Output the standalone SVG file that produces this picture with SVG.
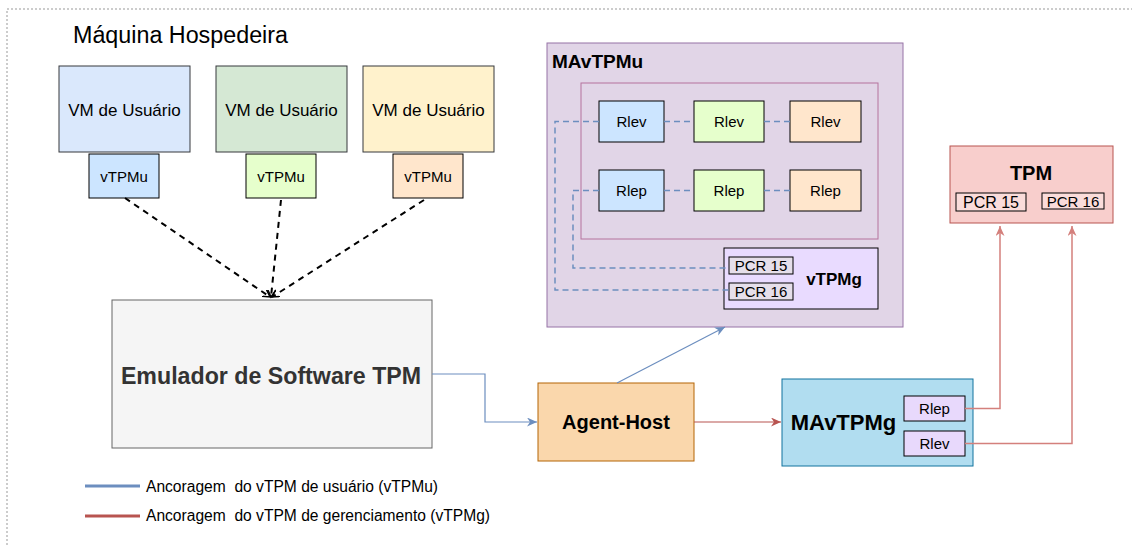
<svg xmlns="http://www.w3.org/2000/svg" width="1132" height="545" viewBox="0 0 1132 545">
  <style>
    text { font-family: "Liberation Sans", Arial, Helvetica, sans-serif; fill: #000; }
    .c { text-anchor: middle; dominant-baseline: central; }
    .b { font-weight: bold; }
    .pre { white-space: pre; }
    .box { stroke-width: 1; }
    .ubox { stroke: #000; stroke-width: 1; }
    .dash-blue { fill: none; stroke: #6c8ebf; stroke-width: 1.5; stroke-dasharray: 6 4; }
    .dash-black { fill: none; stroke: #000; stroke-width: 2; stroke-dasharray: 6 5; }
    .blue { fill: none; stroke: #6c8ebf; stroke-width: 1.2; }
    .red { fill: none; stroke: #b85450; stroke-width: 1.2; }
    .red-soft { fill: none; stroke: #d4807c; stroke-width: 1.5; }
  </style>
  <defs>
    <marker id="arrBlue" markerUnits="userSpaceOnUse" markerWidth="12" markerHeight="10" refX="10" refY="4.5" orient="auto">
      <path d="M0,0 L10,4.5 L0,9 L3,4.5 z" fill="#6c8ebf"/>
    </marker>
    <marker id="arrRed" markerUnits="userSpaceOnUse" markerWidth="12" markerHeight="10" refX="10" refY="4.5" orient="auto">
      <path d="M0,0 L10,4.5 L0,9 L3,4.5 z" fill="#b85450"/>
    </marker>
    <marker id="arrRedSoft" markerUnits="userSpaceOnUse" markerWidth="12" markerHeight="10" refX="10" refY="4.5" orient="auto">
      <path d="M0,0 L10,4.5 L0,9 L3,4.5 z" fill="#d4807c"/>
    </marker>
    <marker id="arrBlack" markerUnits="userSpaceOnUse" markerWidth="10" markerHeight="10" refX="7" refY="4" orient="auto">
      <path d="M0,0 L7,4 L0,8" fill="none" stroke="#000" stroke-width="1.5"/>
    </marker>
  </defs>

  <!-- host machine boundary -->
  <rect x="7" y="9" width="1140" height="550" fill="#fff" stroke="#999" stroke-width="1" stroke-dasharray="2 2"/>
  <text x="73" y="43" font-size="23.3">Máquina Hospedeira</text>

  <!-- user VMs -->
  <g id="vm1">
    <rect class="box" x="59" y="66" width="131" height="86" fill="#dae8fc" stroke="#36393d"/>
    <text class="c" x="124.5" y="110" font-size="17">VM de Usuário</text>
  </g>
  <g id="vm2">
    <rect class="box" x="216" y="66" width="131" height="86" fill="#d5e8d4" stroke="#36393d"/>
    <text class="c" x="281.5" y="110" font-size="17">VM de Usuário</text>
  </g>
  <g id="vm3">
    <rect class="box" x="363" y="66" width="131" height="86" fill="#fff2cc" stroke="#36393d"/>
    <text class="c" x="428.5" y="110" font-size="17">VM de Usuário</text>
  </g>
  <g id="vtpmu1">
    <rect class="ubox" x="89" y="154" width="70" height="44" fill="#cce5ff"/>
    <text class="c" x="124" y="176" font-size="15">vTPMu</text>
  </g>
  <g id="vtpmu2">
    <rect class="ubox" x="246" y="154" width="70" height="44" fill="#e6ffcc"/>
    <text class="c" x="281" y="176" font-size="15">vTPMu</text>
  </g>
  <g id="vtpmu3">
    <rect class="ubox" x="393" y="154" width="70" height="44" fill="#ffe6cc"/>
    <text class="c" x="428" y="176" font-size="15">vTPMu</text>
  </g>

  <!-- software TPM emulator -->
  <g id="emulador">
    <rect x="112" y="300" width="320" height="148" fill="#f5f5f5" stroke="#666"/>
    <text class="c b" x="271" y="376" font-size="23.2" style="fill:#333">Emulador de Software TPM</text>
  </g>

  <!-- user vTPM manager -->
  <g id="mavtpmu">
    <rect x="547" y="43" width="356" height="284" fill="#e1d5e7" stroke="#9673a6"/>
    <text class="b" x="552" y="68" font-size="19">MAvTPMu</text>
    <rect x="581" y="83" width="297" height="156" fill="none" stroke="#b5739d"/>
  </g>
  <g id="rlev-1">
    <rect class="ubox" x="599" y="101" width="65" height="41" fill="#cce5ff"/>
    <text class="c" x="631.5" y="121.5" font-size="15">Rlev</text>
  </g>
  <g id="rlev-2">
    <rect class="ubox" x="694" y="101" width="70" height="41" fill="#e6ffcc"/>
    <text class="c" x="729" y="121.5" font-size="15">Rlev</text>
  </g>
  <g id="rlev-3">
    <rect class="ubox" x="790" y="101" width="71" height="41" fill="#ffe6cc"/>
    <text class="c" x="825.5" y="121.5" font-size="15">Rlev</text>
  </g>
  <g id="rlep-1">
    <rect class="ubox" x="599" y="170" width="65" height="41" fill="#cce5ff"/>
    <text class="c" x="631.5" y="190.5" font-size="15">Rlep</text>
  </g>
  <g id="rlep-2">
    <rect class="ubox" x="694" y="170" width="70" height="41" fill="#e6ffcc"/>
    <text class="c" x="729" y="190.5" font-size="15">Rlep</text>
  </g>
  <g id="rlep-3">
    <rect class="ubox" x="790" y="170" width="71" height="41" fill="#ffe6cc"/>
    <text class="c" x="825.5" y="190.5" font-size="15">Rlep</text>
  </g>
  <g id="vtpmg">
    <rect class="ubox" x="724" y="248" width="154" height="61" fill="#e9dbff"/>
    <rect class="ubox" x="729" y="257" width="64" height="17" fill="#e6dfea"/>
    <text class="c" x="761" y="265.5" font-size="15">PCR 15</text>
    <rect class="ubox" x="729" y="283" width="64" height="17" fill="#e6dfea"/>
    <text class="c" x="761" y="291.5" font-size="15">PCR 16</text>
    <text class="c b" x="834" y="279" font-size="17">vTPMg</text>
  </g>

  <!-- host agent -->
  <g id="agent-host">
    <rect x="538" y="383" width="156" height="78" fill="#fad7ac" stroke="#b46504"/>
    <text class="c b" x="616" y="422" font-size="20">Agent-Host</text>
  </g>

  <!-- management vTPM manager -->
  <g id="mavtpmg">
    <rect x="782" y="379" width="191" height="87" fill="#b1ddf0" stroke="#10739e"/>
    <text class="c b" x="843.5" y="422" font-size="22">MAvTPMg</text>
    <rect class="ubox" x="904" y="396" width="61" height="25" fill="#e8d9fc" stroke="#333"/>
    <text class="c" x="934.5" y="408.5" font-size="15">Rlep</text>
    <rect class="ubox" x="904" y="431" width="61" height="25" fill="#e8d9fc" stroke="#333"/>
    <text class="c" x="934.5" y="443.5" font-size="15">Rlev</text>
  </g>

  <!-- physical TPM -->
  <g id="tpm">
    <rect x="950" y="146" width="163" height="77" fill="#f8cecc" stroke="#b85450"/>
    <text class="c b" x="1031" y="173" font-size="20">TPM</text>
    <rect class="ubox" x="956" y="193" width="70" height="18" fill="#fadcda"/>
    <text class="c" x="991" y="202.5" font-size="16">PCR 15</text>
    <rect class="ubox" x="1042" y="193" width="62" height="16" fill="#fadcda"/>
    <text class="c" x="1073" y="201.5" font-size="15">PCR 16</text>
  </g>

  <!-- connectors -->
  <g id="connectors">
    <path class="dash-black" d="M125,198 L270,297" marker-end="url(#arrBlack)"/>
    <path class="dash-black" d="M281,200 L271,297" marker-end="url(#arrBlack)"/>
    <path class="dash-black" d="M424,200 L272,297" marker-end="url(#arrBlack)"/>

    <path class="dash-blue" d="M664,121.5 H694 M764,121.5 H790 M664,190.5 H694 M764,190.5 H790"/>
    <path class="dash-blue" d="M599,121.5 H555 V290 H729"/>
    <path class="dash-blue" d="M599,190.5 H573 V268 H729"/>

    <path class="blue" d="M432,374 H485 V422 H537" marker-end="url(#arrBlue)"/>
    <path class="blue" d="M617,383 L725,327" marker-end="url(#arrBlue)"/>
    <path class="red" d="M694,422 H781" marker-end="url(#arrRed)"/>
    <path class="red-soft" d="M965,408.5 H1000 V226" marker-end="url(#arrRedSoft)"/>
    <path class="red-soft" d="M965,443.5 H1072 V226" marker-end="url(#arrRedSoft)"/>
  </g>

  <!-- legend -->
  <g id="legend">
    <line x1="85" y1="486" x2="140" y2="486" stroke="#6c8ebf" stroke-width="3"/>
    <text class="pre" x="146" y="492" font-size="15.6">Ancoragem  do vTPM de usuário (vTPMu)</text>
    <line x1="85" y1="516" x2="140" y2="516" stroke="#b85450" stroke-width="3"/>
    <text class="pre" x="146" y="521" font-size="15.6">Ancoragem  do vTPM de gerenciamento (vTPMg)</text>
  </g>
</svg>
